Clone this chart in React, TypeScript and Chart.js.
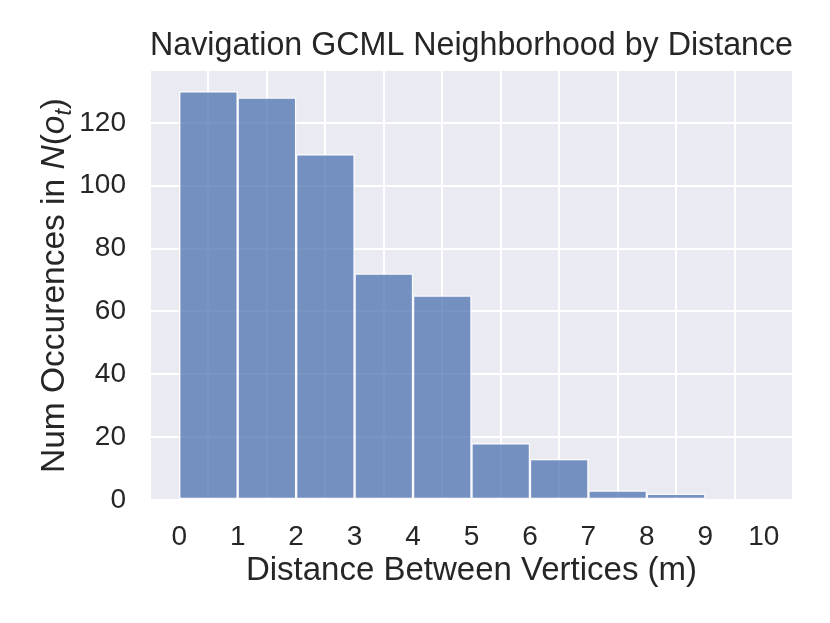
import React, { useEffect, useRef } from "react";
import { Chart, registerables } from "chart.js";

Chart.register(...registerables);

const binCenters = [0.5, 1.5, 2.5, 3.5, 4.5, 5.5, 6.5, 7.5, 8.5, 9.5];
const counts = [130, 128, 110, 72, 65, 18, 13, 3, 2, 0];
const xTicks = [0, 1, 2, 3, 4, 5, 6, 7, 8, 9, 10];
const yTicks = [0, 20, 40, 60, 80, 100, 120];

const titleText = "Navigation GCML Neighborhood by Distance";
const xTitleText = "Distance Between Vertices (m)";

const FONT = "'Liberation Sans', Arial, Helvetica, sans-serif";
const TEXT = "#262626";
const BG = "#EAEAF2";

const bgPlugin = {
  id: "plotBg",
  beforeDraw(chart: any) {
    const { ctx, chartArea } = chart;
    ctx.save();
    ctx.fillStyle = BG;
    ctx.fillRect(chartArea.left, chartArea.top, chartArea.right - chartArea.left, chartArea.bottom - chartArea.top);
    ctx.restore();
  },
};

const yTitlePlugin = {
  id: "yTitleMixed",
  afterDraw(chart: any) {
    const { ctx, chartArea } = chart;
    const size = 33.5;
    const segs: { t: string; italic?: boolean; sub?: boolean }[] = [
      { t: "Num Occurences in " },
      { t: "N", italic: true },
      { t: "(" },
      { t: "o", italic: true },
      { t: "t", italic: true, sub: true },
      { t: ")" },
    ];
    const fontFor = (s: any) =>
      `${s.italic ? "italic " : ""}${s.sub ? Math.round(size * 0.7) : size}px ${FONT}`;
    ctx.save();
    let total = 0;
    const widths = segs.map((s) => {
      ctx.font = fontFor(s);
      const w = ctx.measureText(s.t).width;
      total += w;
      return w;
    });
    const cx = 52;
    const cy = (chartArea.top + chartArea.bottom) / 2;
    ctx.translate(cx, cy);
    ctx.rotate(-Math.PI / 2);
    ctx.fillStyle = TEXT;
    ctx.textBaseline = "alphabetic";
    ctx.textAlign = "left";
    let x = -total / 2;
    const base = size * 0.36;
    segs.forEach((s, i) => {
      ctx.font = fontFor(s);
      ctx.fillText(s.t, x, base + (s.sub ? size * 0.2 : 0));
      x += widths[i];
    });
    ctx.restore();
  },
};

export default function App() {
  const ref = useRef<HTMLCanvasElement | null>(null);

  useEffect(() => {
    document.body.style.margin = "0";
    const canvas = ref.current!;
    const chart = new Chart(canvas, {
      type: "bar",
      data: {
        datasets: [
          {
            data: binCenters.map((x, i) => ({ x, y: counts[i] })),
            backgroundColor: "rgba(76,114,176,0.75)",
            borderColor: "rgba(255,255,255,0.75)",
            borderWidth: 1.5,
            borderSkipped: false,
            barPercentage: 1,
            categoryPercentage: 1,
          },
        ],
      },
      options: {
        animation: false,
        responsive: false,
        maintainAspectRatio: false,
        devicePixelRatio: 1,
        layout: { padding: { left: 0, right: 37, top: 0, bottom: 0 } },
        plugins: {
          legend: { display: false },
          tooltip: { enabled: false },
          title: {
            display: true,
            text: titleText,
            fullSize: false,
            color: TEXT,
            font: { family: FONT, size: 32.4, weight: "normal" },
            padding: { top: 26.6, bottom: 5.5 },
          },
        },
        scales: {
          x: {
            type: "linear",
            min: -0.5,
            max: 10.5,
            offset: false,
            afterBuildTicks: (scale: any) => {
              scale.ticks = xTicks.map((v) => ({ value: v }));
            },
            afterFit: (scale: any) => {
              scale.height = 123;
            },
            grid: { color: "#FFFFFF", lineWidth: 2, drawTicks: false },
            border: { display: false },
            ticks: {
              color: TEXT,
              font: { family: FONT, size: 28 },
              padding: 20,
              maxRotation: 0,
              autoSkip: false,
            },
            title: {
              display: true,
              text: xTitleText,
              color: TEXT,
              font: { family: FONT, size: 33 },
              padding: { top: 0, bottom: 32 },
            },
          },
          y: {
            type: "linear",
            min: 0,
            max: 136.5,
            afterBuildTicks: (scale: any) => {
              scale.ticks = yTicks.map((v) => ({ value: v }));
            },
            afterFit: (scale: any) => {
              scale.width = 150;
            },
            grid: { color: "#FFFFFF", lineWidth: 2, drawTicks: false },
            border: { display: false },
            ticks: {
              color: TEXT,
              font: { family: FONT, size: 28 },
              padding: 24,
              autoSkip: false,
            },
          },
        },
      },
      plugins: [bgPlugin, yTitlePlugin],
    } as any);
    return () => chart.destroy();
  }, []);

  return <canvas ref={ref} width={830} height={623} style={{ display: "block" }} />;
}
